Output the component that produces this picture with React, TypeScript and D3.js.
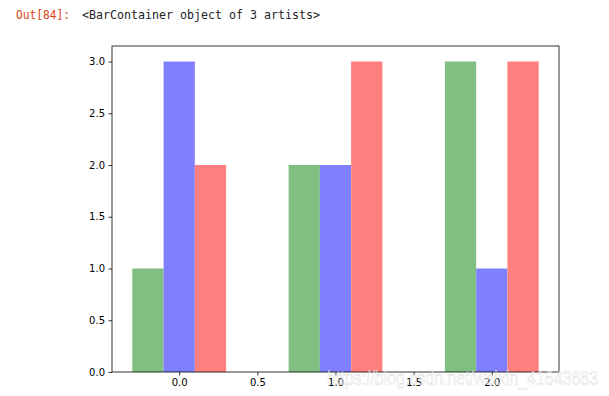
import React, { useEffect, useRef } from "react";
import * as d3 from "d3";

const positions = [0, 1, 2];
const greenValues = [1, 2, 3];
const blueValues = [3, 2, 1];
const redValues = [2, 3, 3];
const xTicks = [0, 0.5, 1, 1.5, 2];
const yTicks = [0, 0.5, 1, 1.5, 2, 2.5, 3];

const series = [
  { name: "green", values: greenValues, offset: -0.2, color: "rgb(127,191,127)" },
  { name: "blue", values: blueValues, offset: 0, color: "rgb(127,127,255)" },
  { name: "red", values: redValues, offset: 0.2, color: "rgb(255,127,127)" },
];

const App = () => {
  const ref = useRef<SVGSVGElement>(null);

  const W = 609;
  const H = 396;
  const margin = { top: 46, right: 50, bottom: 24, left: 112 };
  const width = W - margin.left - margin.right;
  const height = H - margin.top - margin.bottom;
  const barW = 0.2;

  useEffect(() => {
    const svg = d3.select(ref.current);
    svg.selectAll("*").remove();

    svg
      .append("text")
      .attr("x", 16)
      .attr("y", 19)
      .attr("fill", "#d84315")
      .attr("font-family", "DejaVu Sans Mono, monospace")
      .attr("font-size", 13)
      .attr("textLength", 54)
      .attr("lengthAdjust", "spacingAndGlyphs")
      .text("Out[84]:");
    svg
      .append("text")
      .attr("x", 82)
      .attr("y", 19)
      .attr("fill", "#222")
      .attr("font-family", "DejaVu Sans Mono, monospace")
      .attr("font-size", 13)
      .attr("textLength", 238)
      .attr("lengthAdjust", "spacingAndGlyphs")
      .text("<BarContainer object of 3 artists>");

    const lo = -0.3, hi = 2.3;
    const pad = (hi - lo) * 0.05;
    const x = d3.scaleLinear().domain([lo - pad, hi + pad]).range([0, width]);
    const y = d3.scaleLinear().domain([0, 3.15]).range([height, 0]);

    const g = svg
      .append("g")
      .attr("transform", "translate(" + margin.left + "," + margin.top + ")");

    series.forEach((s) => {
      g.selectAll(`rect.${s.name}`)
        .data(s.values)
        .enter()
        .append("rect")
        .attr("class", s.name)
        .attr("x", (d, i) => x(positions[i] + s.offset - barW / 2))
        .attr("width", x(barW) - x(0))
        .attr("y", (d) => y(d))
        .attr("height", (d) => y(0) - y(d))
        .attr("fill", s.color);
    });

    const xAxis = g
      .append("g")
      .attr("transform", "translate(0," + height + ")")
      .call(d3.axisBottom(x).tickValues(xTicks).tickFormat(d3.format(".1f")).tickSize(3.5).tickPadding(3.5));
    const yAxis = g
      .append("g")
      .call(d3.axisLeft(y).tickValues(yTicks).tickFormat(d3.format(".1f")).tickSize(3.5).tickPadding(3.5));

    [xAxis, yAxis].forEach((a) => {
      a.select(".domain").remove();
      a.selectAll("line").attr("stroke", "#000").attr("stroke-width", 0.8);
      a.selectAll("text")
        .attr("fill", "#000")
        .attr("font-size", 10)
        .attr("font-family", "DejaVu Sans, sans-serif");
    });

    g.append("rect")
      .attr("x", 0)
      .attr("y", 0)
      .attr("width", width)
      .attr("height", height)
      .attr("fill", "none")
      .attr("stroke", "#000")
      .attr("stroke-width", 0.8);

    // csdn watermark
    svg
      .append("text")
      .attr("x", 327)
      .attr("y", 385)
      .attr("fill", "#fff")
      .attr("fill-opacity", 0.6)
      .attr("stroke", "#bbb")
      .attr("stroke-opacity", 0.5)
      .attr("stroke-width", 0.6)
      .attr("font-family", "Liberation Sans, Arial, sans-serif")
      .attr("font-size", 20)
      .attr("textLength", 271)
      .attr("lengthAdjust", "spacingAndGlyphs")
      .text("https://blog.csdn.net/weixin_41643663");
  }, []);

  return (
    <svg
      ref={ref}
      width={W}
      height={H}
      style={{ position: "absolute", left: 0, top: 0, background: "#fff" }}
    />
  );
};

export default App;
